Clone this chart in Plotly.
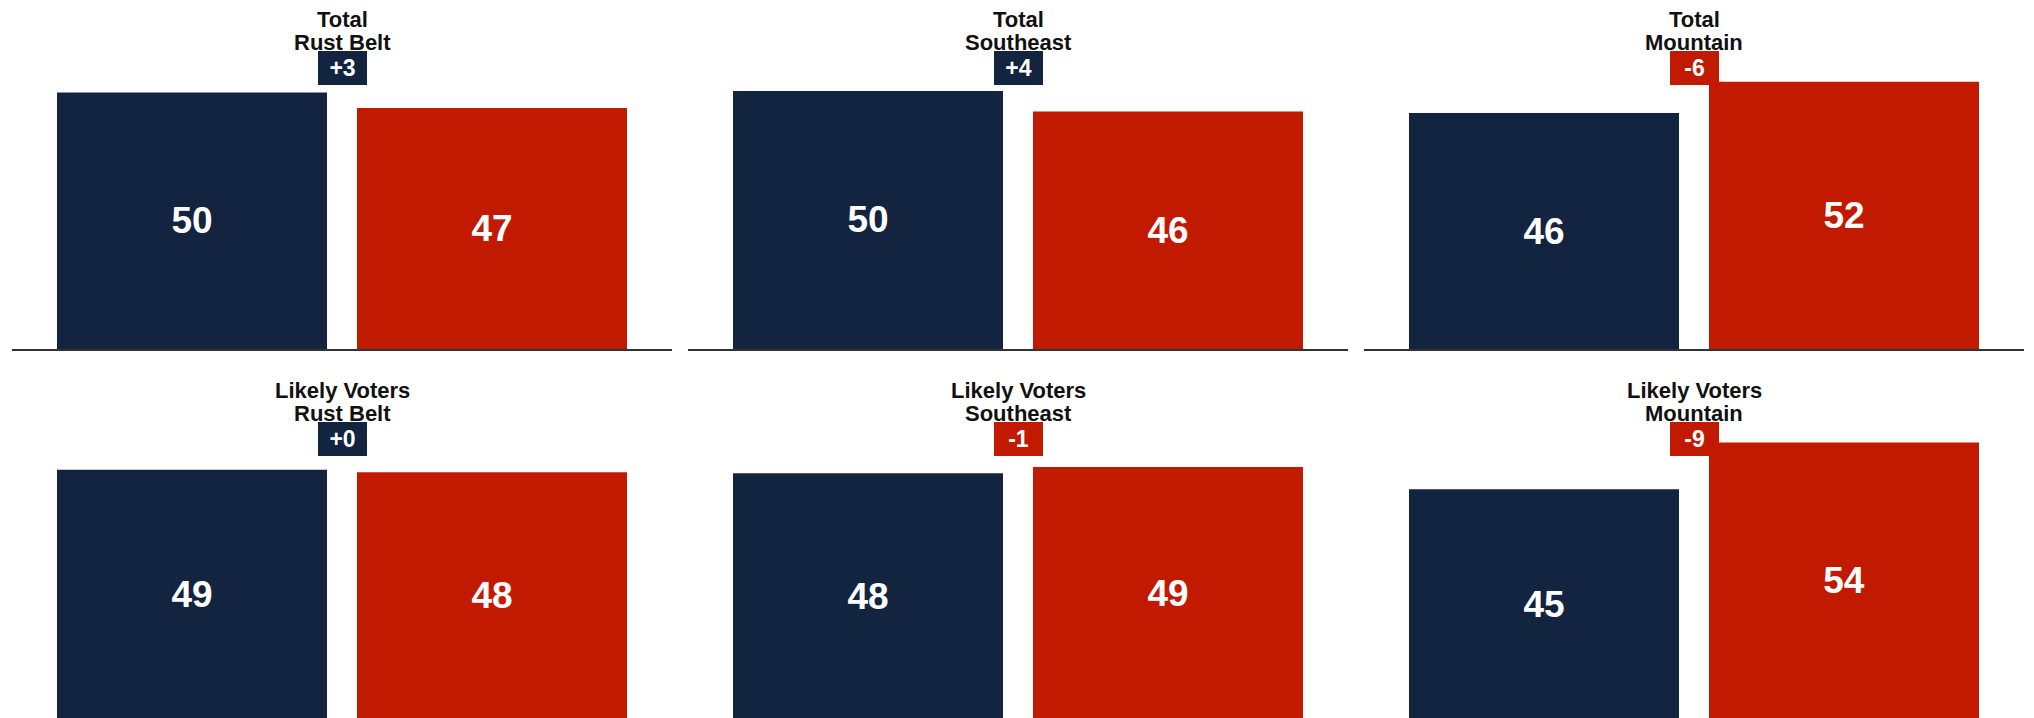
import plotly.graph_objects as go

# panel data
regions = ["Rust Belt", "Southeast", "Mountain"]
groups = ["Total", "Likely Voters"]
parties = ["Dem", "Rep"]

dem_total = [50.0, 50.3, 46.0]
rep_total = [47.0, 46.3, 52.1]
dem_likely = [48.6, 47.9, 44.8]
rep_likely = [48.1, 49.1, 53.9]

margin_total = ["+3", "+4", "-6"]
margin_likely = ["+0", "-1", "-9"]

navy = "#12243F"
red = "#C21A01"

# page has an 8px body margin, so the figure is placed 8px in
OFF = 8
W, H = 2034 - OFF, 718 - OFF

# pixel layout of the panels (page coordinates)
col_px = [(12, 672), (688, 1348), (1364, 2024)]
row_top_px = [41, 412]
row_base_px = [349, 719]
px_per_unit = 5.13


def px(p):
    return (p - OFF) / W


def py(p):
    return 1 - (p - OFF) / H


fig = go.Figure()
rows = [(dem_total, rep_total, margin_total), (dem_likely, rep_likely, margin_likely)]

n = 0
for r, (dem, rep, margins) in enumerate(rows):
    for c in range(3):
        n += 1
        xa = "x" if n == 1 else f"x{n}"
        ya = "y" if n == 1 else f"y{n}"
        fig.add_trace(go.Bar(
            x=parties, y=[dem[c], rep[c]],
            marker=dict(color=[navy, red], line=dict(width=0)),
            width=0.9,
            texttemplate="<b>%{y:.0f}</b>",
            textposition="inside", insidetextanchor="middle",
            textfont=dict(family="Liberation Sans", size=37, color="white"),
            xaxis=xa, yaxis=ya, showlegend=False, hoverinfo="skip",
        ))

        x0, x1 = col_px[c]
        top, base = row_top_px[r], row_base_px[r]
        bottom = min(base, 718)
        # bottom row baseline sits just below the page edge
        r0 = (base - bottom) / px_per_unit
        r1 = r0 + (bottom - top) / px_per_unit
        key = "" if n == 1 else str(n)
        fig.update_layout(**{
            f"xaxis{key}": dict(
                domain=[px(x0), px(x1)], anchor=ya, range=[-0.6, 1.6],
                showticklabels=False, ticks="", showgrid=False, zeroline=False,
                showline=True, linewidth=2,
                linecolor="#333333" if r == 0 else "#e4e4e4",
            ),
            f"yaxis{key}": dict(
                domain=[max(py(bottom), 0), py(top)], anchor=xa, range=[r0, r1],
                showticklabels=False, ticks="", showgrid=False, zeroline=False,
                showline=False,
            ),
        })

        cx = px((x0 + x1) / 2)
        off = 371 * r
        fig.add_annotation(x=cx, y=py(20 + off), xref="paper", yref="paper",
                           text=f"<b>{groups[r]}</b>", showarrow=False,
                           xanchor="center", yanchor="middle",
                           font=dict(family="Liberation Sans", size=22, color="#111111"))
        fig.add_annotation(x=cx, y=py(42 + off), xref="paper", yref="paper",
                           text=f"<b>{regions[c]}</b>", showarrow=False,
                           xanchor="center", yanchor="middle",
                           font=dict(family="Liberation Sans", size=22, color="#111111"))
        badge = red if margins[c].startswith("-") else navy
        fig.add_annotation(x=cx, y=py(68 + off), xref="paper", yref="paper",
                           text=f"<b>{margins[c]}</b>", showarrow=False,
                           xanchor="center", yanchor="middle",
                           width=43, height=28, borderpad=2,
                           bgcolor=badge, bordercolor=badge, borderwidth=1,
                           font=dict(family="Liberation Sans", size=23, color="white"))

fig.update_layout(
    width=W, height=H,
    margin=dict(l=0, r=0, t=0, b=0),
    paper_bgcolor="white", plot_bgcolor="white",
    bargap=0.1,
)

fig.write_html("out.html")
